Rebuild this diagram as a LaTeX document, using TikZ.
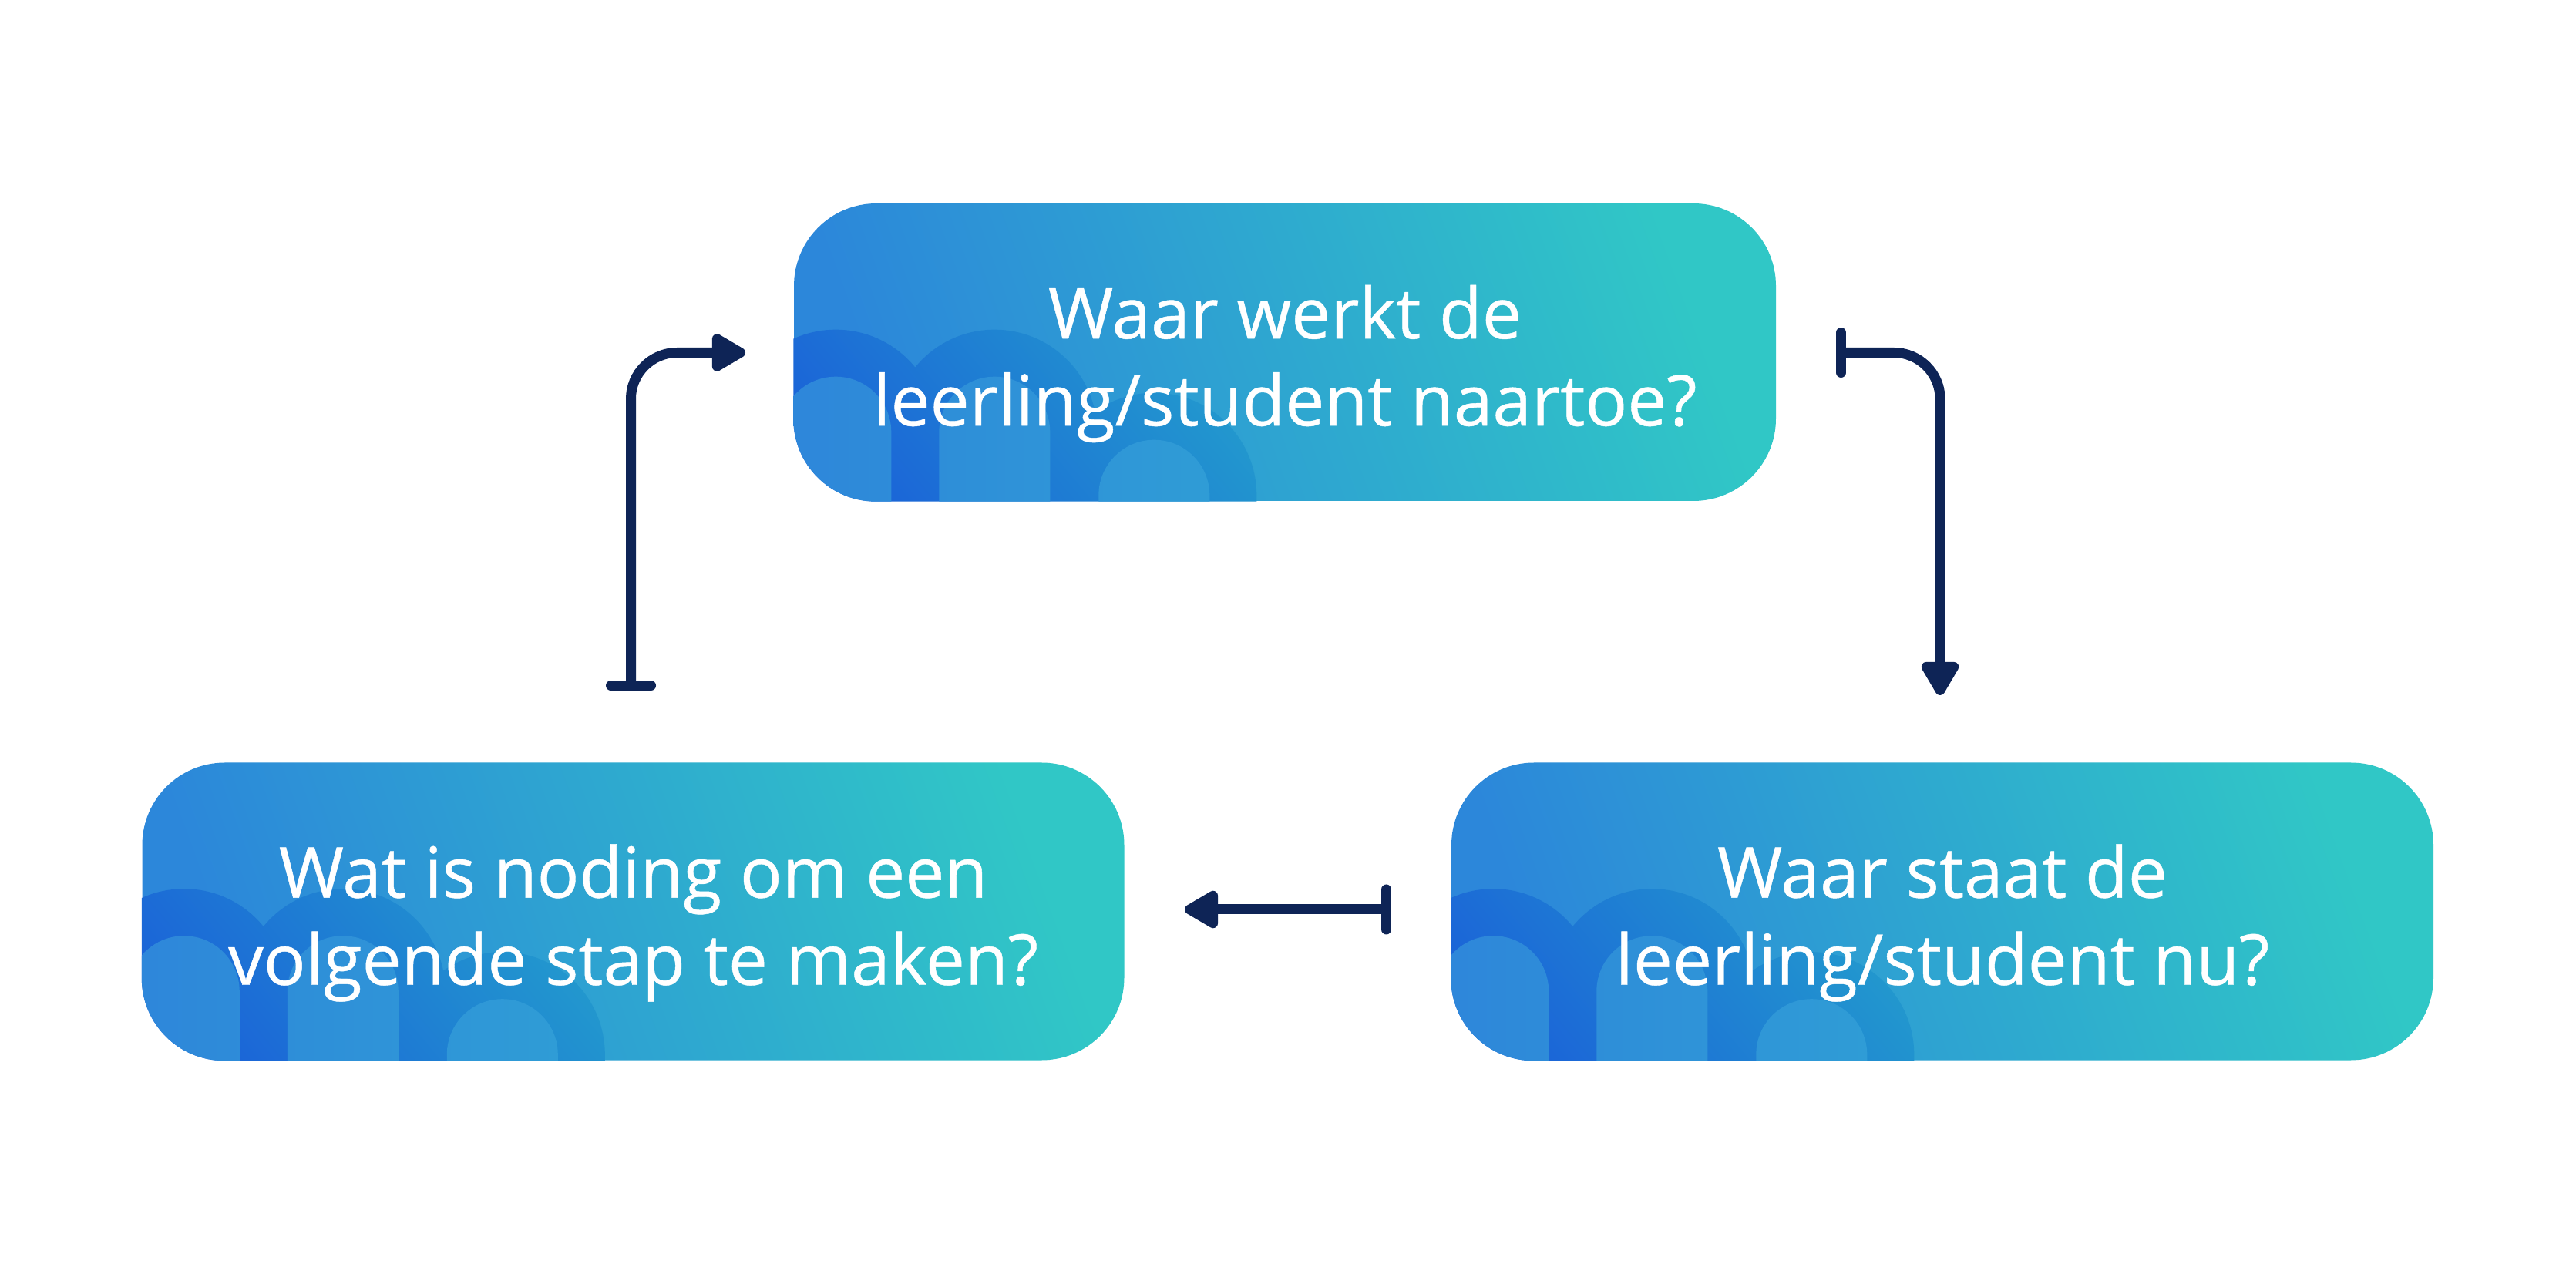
\documentclass[tikz,border=0pt]{standalone}
\usepackage{fontspec}
\setmainfont{Open Sans}
\newfontfamily\qfont{Open Sans}[FakeBold=0.5]
\usepackage{xcolor}
\usetikzlibrary{arrows.meta,positioning,calc}

\definecolor{navy}{HTML}{0E2456}
\definecolor{boxblue}{HTML}{2C87DA}
\definecolor{boxteal}{HTML}{30C7C6}
\definecolor{logodark}{HTML}{1A5ED9}
\definecolor{logolight}{HTML}{2298CE}
\definecolor{archleft}{HTML}{2E86DA}
\definecolor{archright}{HTML}{2F9CD6}

% arches of the logo in the lower left of a box
\newcommand{\boxlogo}[1]{%
  \begin{scope}
    \clip[rounded corners=1.07cm] (#1.south west) rectangle (#1.north east);
    \begin{scope}[shift={(#1.south west)}]
      \shade[bottom color=logodark, top color=logolight, shading angle=-50]
        \foreach \ax/\ay in {0.55/0.90, 2.61/0.90, 4.68/0.08} {
          (\ax-1.33,-0.1) -- (\ax-1.33,\ay) arc[start angle=180, end angle=0, radius=1.33] -- (\ax+1.33,-0.1) -- cycle};
      \shade[left color=archleft, right color=archright]
        \foreach \ax/\ay in {0.55/0.90, 2.61/0.90, 4.68/0.08} {
          (\ax-0.72,-0.1) -- (\ax-0.72,\ay) arc[start angle=180, end angle=0, radius=0.72] -- (\ax+0.72,-0.1) -- cycle};
    \end{scope}
  \end{scope}}

\begin{document}
\begin{tikzpicture}[
    qbox/.style={rounded corners=1.07cm, minimum width=12.74cm, minimum height=3.86cm, inner sep=0pt,
      bottom color=boxblue, top color=boxteal, shading angle=-70},
    qtext/.style={text=white, align=center, inner sep=0pt, yshift=-0.15cm, font=\qfont\fontsize{25.9}{32.2}\selectfont},
    cycle arrow/.style={draw=navy, line width=0.13cm, rounded corners=0.6cm,
      {Bar[width=0.52cm, line cap=round]}-{Triangle[length=0.5cm, width=0.54cm, round]}}
]
    \fill[white] (0,0) rectangle (33.42,16.39);
    \useasboundingbox (0,0) rectangle (33.42,16.39);

    % the three questions
    \node[qbox] (goal) at (16.67,11.82) {};
    \node[qbox] (next) at (8.215,4.565) {};
    \node[qbox] (now) at (25.20,4.565) {};

    \boxlogo{goal}
    \boxlogo{next}
    \boxlogo{now}

    \node[qtext] (goaltext) at (goal.center) {Waar werkt de\\leerling/student naartoe?};
    \node[qtext] (nexttext) at (next.center) {Wat is noding om een\\volgende stap te maken?};
    \node[qtext] (nowtext) at (now.center) {Waar staat de\\leerling/student nu?};

    % arrow ends
    \coordinate (nextout) at (8.185,7.43);
    \coordinate (goalin) at (9.67,11.815);
    \coordinate (goalout) at (23.82,11.815);
    \coordinate (nowin) at (25.17,7.37);
    \coordinate (nowout) at (18.05,4.59);
    \coordinate (nextin) at (15.37,4.59);

    \draw[cycle arrow] (nextout) |- (goalin);
    \draw[cycle arrow] (goalout) -| (nowin);
    \draw[cycle arrow] (nowout) -- (nextin);
\end{tikzpicture}
\end{document}
